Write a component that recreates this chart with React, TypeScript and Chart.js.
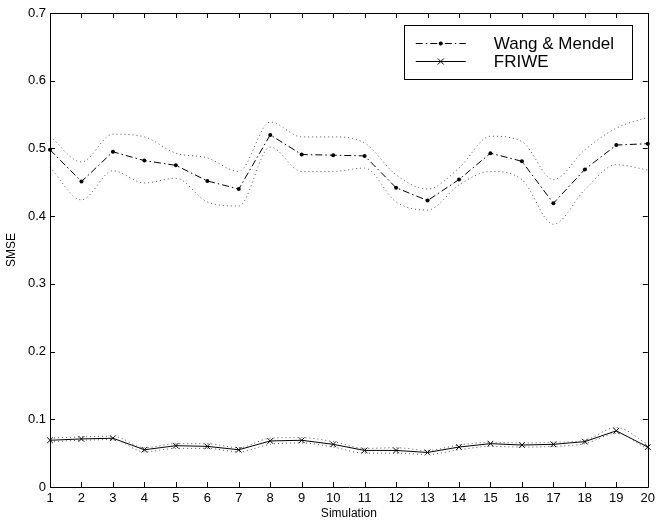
import React, { useEffect, useRef } from 'react';
import { Chart, registerables } from 'chart.js';

Chart.register(...registerables);

const simulations = ['1','2','3','4','5','6','7','8','9','10','11','12','13','14','15','16','17','18','19','20'];

const wangMendel = [0.498, 0.451, 0.495, 0.482, 0.475, 0.452, 0.440, 0.520, 0.491, 0.490, 0.489, 0.442, 0.423, 0.454, 0.493, 0.481, 0.419, 0.469, 0.505, 0.507];
const wangMendelUpper = [0.518, 0.480, 0.521, 0.517, 0.493, 0.486, 0.466, 0.539, 0.517, 0.517, 0.508, 0.461, 0.440, 0.471, 0.518, 0.510, 0.454, 0.498, 0.530, 0.546];
const wangMendelLower = [0.472, 0.424, 0.467, 0.449, 0.456, 0.421, 0.415, 0.502, 0.466, 0.466, 0.471, 0.421, 0.409, 0.446, 0.466, 0.454, 0.388, 0.439, 0.476, 0.468];

const friwe = [0.069, 0.071, 0.072, 0.055, 0.061, 0.060, 0.055, 0.068, 0.069, 0.063, 0.054, 0.054, 0.051, 0.059, 0.064, 0.062, 0.063, 0.067, 0.083, 0.059];
const friweUpper = [0.072, 0.074, 0.075, 0.058, 0.064, 0.064, 0.058, 0.072, 0.073, 0.067, 0.057, 0.058, 0.054, 0.062, 0.066, 0.065, 0.066, 0.069, 0.088, 0.063];
const friweLower = [0.067, 0.069, 0.070, 0.052, 0.057, 0.057, 0.052, 0.063, 0.065, 0.059, 0.050, 0.050, 0.048, 0.055, 0.060, 0.059, 0.060, 0.064, 0.079, 0.056];

const yMin = 0;
const yMax = 0.7;
const yStep = 0.1;

const legendLabels = ['Wang & Mendel', 'FRIWE'];

const FONT = "'Liberation Sans', Arial, Helvetica, sans-serif";

const frameTicksPlugin = {
  id: 'frameTicks',
  afterDatasetsDraw(chart: any) {
    const { ctx, chartArea } = chart;
    const { left, right, top, bottom } = chartArea;
    const xs = chart.scales.x;
    const ys = chart.scales.y;
    ctx.save();
    ctx.strokeStyle = '#000';
    ctx.lineWidth = 1;
    ctx.setLineDash([]);
    ctx.beginPath();
    ctx.rect(Math.round(left) + 0.5, Math.round(top) + 0.5, Math.round(right - left), Math.round(bottom - top));
    ctx.stroke();
    const tl = 5;
    ctx.beginPath();
    for (let i = 0; i < simulations.length; i++) {
      const px = Math.round(xs.getPixelForValue(i)) + 0.5;
      ctx.moveTo(px, bottom);
      ctx.lineTo(px, bottom - tl);
      ctx.moveTo(px, top);
      ctx.lineTo(px, top + tl);
    }
    for (let v = yMin; v <= yMax + 1e-9; v += yStep) {
      const py = Math.round(ys.getPixelForValue(v)) + 0.5;
      ctx.moveTo(left, py);
      ctx.lineTo(left + tl, py);
      ctx.moveTo(right, py);
      ctx.lineTo(right - tl, py);
    }
    ctx.stroke();
    ctx.restore();
  },
};

const boxLegendPlugin = {
  id: 'boxLegend',
  afterDraw(chart: any) {
    const { ctx, chartArea } = chart;
    const bx = chartArea.right - 244;
    const by = chartArea.top + 12;
    const bw = 228;
    const bh = 54;
    ctx.save();
    ctx.fillStyle = '#fff';
    ctx.fillRect(bx, by, bw, bh);
    ctx.strokeStyle = '#000';
    ctx.lineWidth = 1;
    ctx.setLineDash([]);
    ctx.strokeRect(Math.round(bx) + 0.5, Math.round(by) + 0.5, bw, bh);

    const lx0 = bx + 12;
    const lx1 = bx + 62;
    const lxm = (lx0 + lx1) / 2;
    const y1 = by + 18;
    const y2 = by + 36;

    ctx.beginPath();
    ctx.setLineDash([7, 3, 1.5, 3]);
    ctx.moveTo(lx0, y1 + 0.5);
    ctx.lineTo(lx1, y1 + 0.5);
    ctx.stroke();
    ctx.setLineDash([]);
    ctx.fillStyle = '#000';
    ctx.beginPath();
    ctx.arc(lxm, y1 + 0.5, 2, 0, Math.PI * 2);
    ctx.fill();

    ctx.beginPath();
    ctx.moveTo(lx0, y2 + 0.5);
    ctx.lineTo(lx1, y2 + 0.5);
    ctx.stroke();
    ctx.beginPath();
    const r = 3;
    ctx.moveTo(lxm - r, y2 + 0.5 - r);
    ctx.lineTo(lxm + r, y2 + 0.5 + r);
    ctx.moveTo(lxm + r, y2 + 0.5 - r);
    ctx.lineTo(lxm - r, y2 + 0.5 + r);
    ctx.stroke();

    ctx.fillStyle = '#000';
    ctx.font = `17px ${FONT}`;
    ctx.textBaseline = 'middle';
    ctx.textAlign = 'left';
    ctx.fillText(legendLabels[0], bx + 90, y1 + 1);
    ctx.fillText(legendLabels[1], bx + 90, y2 + 1);
    ctx.restore();
  },
};

export default function App() {
  const canvasRef = useRef<HTMLCanvasElement | null>(null);

  useEffect(() => {
    if (!canvasRef.current) return;
    const dotted = {
      borderColor: '#555',
      borderWidth: 1,
      borderDash: [1, 3],
      pointRadius: 0,
      fill: false,
      cubicInterpolationMode: 'monotone' as const,
    };
    const chart = new Chart(canvasRef.current, {
      type: 'line',
      data: {
        labels: simulations,
        datasets: [
          { label: 'WM upper', data: wangMendelUpper, ...dotted },
          { label: 'WM lower', data: wangMendelLower, ...dotted },
          { label: 'FRIWE upper', data: friweUpper, ...dotted },
          { label: 'FRIWE lower', data: friweLower, ...dotted },
          {
            label: legendLabels[0],
            data: wangMendel,
            borderColor: '#000',
            borderWidth: 1,
            borderDash: [7, 3, 1.5, 3],
            pointStyle: 'circle',
            pointRadius: 2,
            pointBackgroundColor: '#000',
            pointBorderColor: '#000',
            pointBorderWidth: 0,
            fill: false,
            tension: 0,
          },
          {
            label: legendLabels[1],
            data: friwe,
            borderColor: '#000',
            borderWidth: 1,
            pointStyle: 'crossRot',
            pointRadius: 4,
            pointBorderColor: '#000',
            pointBorderWidth: 1,
            fill: false,
            tension: 0,
          },
        ],
      },
      options: {
        responsive: false,
        animation: false,
        events: [],
        layout: { padding: { top: 13, right: 8, left: 0, bottom: 0 } },
        plugins: {
          legend: { display: false },
          tooltip: { enabled: false },
          title: { display: false },
        },
        scales: {
          x: {
            type: 'category',
            offset: false,
            grid: { display: false, drawTicks: false },
            border: { display: false },
            ticks: {
              color: '#000',
              font: { family: FONT, size: 13 },
              padding: 4,
              maxRotation: 0,
              autoSkip: false,
            },
            title: {
              display: true,
              text: 'Simulation',
              color: '#000',
              font: { family: FONT, size: 12 },
              padding: { top: 0, bottom: 0 },
            },
            afterFit(scale: any) {
              scale.height = 34;
            },
          },
          y: {
            min: yMin,
            max: yMax,
            grid: { display: false, drawTicks: false },
            border: { display: false },
            ticks: {
              stepSize: yStep,
              color: '#000',
              font: { family: FONT, size: 13 },
              padding: 4,
              callback: (v: any) => (Number(v) === 0 ? '0' : Number(v).toFixed(1)),
            },
            title: {
              display: true,
              text: 'SMSE',
              color: '#000',
              font: { family: FONT, size: 12 },
              padding: { top: 4, bottom: 0 },
            },
            afterFit(scale: any) {
              scale.width = 50;
            },
          },
        },
      },
      plugins: [frameTicksPlugin, boxLegendPlugin],
    });
    return () => chart.destroy();
  }, []);

  return (
    <div style={{ position: 'absolute', left: 0, top: 0, width: 659, height: 521, background: '#fff' }}>
      <canvas ref={canvasRef} width={659} height={521} style={{ display: 'block' }} />
    </div>
  );
}
